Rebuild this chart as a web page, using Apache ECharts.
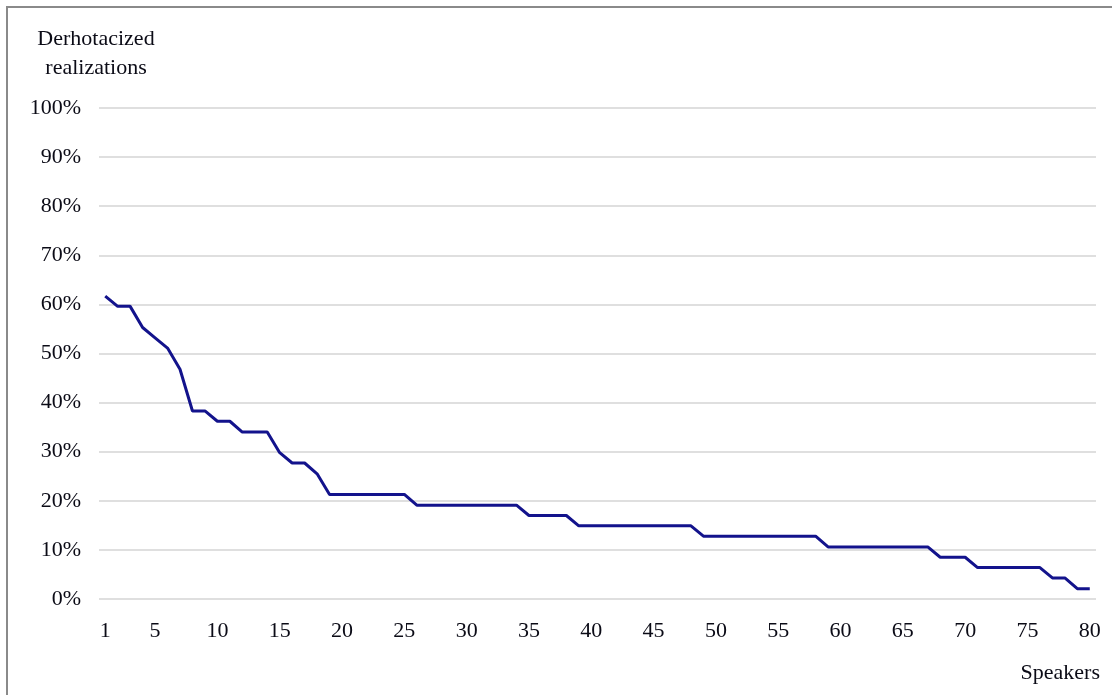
<!DOCTYPE html>
<html>
<head>
<meta charset="utf-8">
<script src="https://cdn.jsdelivr.net/npm/echarts@6/dist/echarts.min.js"></script>
<style>
  html, body { margin: 0; padding: 0; background: #fff; }
  #chart { width: 1112px; height: 695px; }
  #frame {
    position: absolute; left: 6px; top: 6px; right: 0; bottom: 0;
    border-left: 2px solid #8a8a8a; border-top: 2px solid #8a8a8a;
    pointer-events: none;
  }
</style>
</head>
<body>
<div id="chart"></div>
<div id="frame"></div>
<script>
// speakers 1..80, sorted by share of derhotacized realizations
const speakers = [];
for (let i = 1; i <= 80; i++) speakers.push(String(i));

const derhotacized = [
  61.7, 59.6, 59.6, 55.3, 53.2, 51.1, 46.8, 38.3, 38.3, 36.2,
  36.2, 34.0, 34.0, 34.0, 29.8, 27.7, 27.7, 25.5, 21.3, 21.3,
  21.3, 21.3, 21.3, 21.3, 21.3, 19.1, 19.1, 19.1, 19.1, 19.1,
  19.1, 19.1, 19.1, 19.1, 17.0, 17.0, 17.0, 17.0, 14.9, 14.9,
  14.9, 14.9, 14.9, 14.9, 14.9, 14.9, 14.9, 14.9, 12.8, 12.8,
  12.8, 12.8, 12.8, 12.8, 12.8, 12.8, 12.8, 12.8, 10.6, 10.6,
  10.6, 10.6, 10.6, 10.6, 10.6, 10.6, 10.6, 8.5, 8.5, 8.5,
  6.4, 6.4, 6.4, 6.4, 6.4, 6.4, 4.3, 4.3, 2.1, 2.1
];

const labelFont = 'Liberation Serif';
const textColor = '#0b0b16';

const chart = echarts.init(document.getElementById('chart'));

chart.setOption({
  animation: false,
  backgroundColor: '#fff',
  grid: { left: 99, right: 16, top: 108, bottom: 96 },
  xAxis: {
    type: 'category',
    data: speakers,
    boundaryGap: true,
    name: 'Speakers',
    nameLocation: 'end',
    nameGap: 0,
    nameTextStyle: {
      fontFamily: labelFont, fontSize: 22, color: textColor,
      align: 'right', verticalAlign: 'top', padding: [63, -4, 0, 0]
    },
    axisLine: { show: false },
    axisTick: { show: false },
    axisLabel: {
      interval: (idx, val) => val === '1' || Number(val) % 5 === 0,
      fontFamily: labelFont, fontSize: 22, color: textColor, margin: 21
    }
  },
  yAxis: {
    type: 'value',
    min: 0, max: 100, interval: 10,
    name: 'Derhotacized\nrealizations',
    nameLocation: 'end',
    nameGap: 25,
    nameTextStyle: {
      fontFamily: labelFont, fontSize: 22, lineHeight: 29, color: textColor,
      align: 'center', verticalAlign: 'bottom', padding: [0, 6, 0, 0]
    },
    axisLine: { show: false },
    axisTick: { show: false },
    axisLabel: {
      formatter: '{value}%',
      fontFamily: labelFont, fontSize: 22, color: textColor, margin: 18,
      padding: [6, 0, 0, 0]
    },
    splitLine: { lineStyle: { color: '#d4d4d4', width: 1.5 } }
  },
  series: [{
    name: 'Derhotacized realizations',
    type: 'line',
    data: derhotacized,
    showSymbol: false,
    lineStyle: { color: '#13138c', width: 3 }
  }]
});
</script>
</body>
</html>
